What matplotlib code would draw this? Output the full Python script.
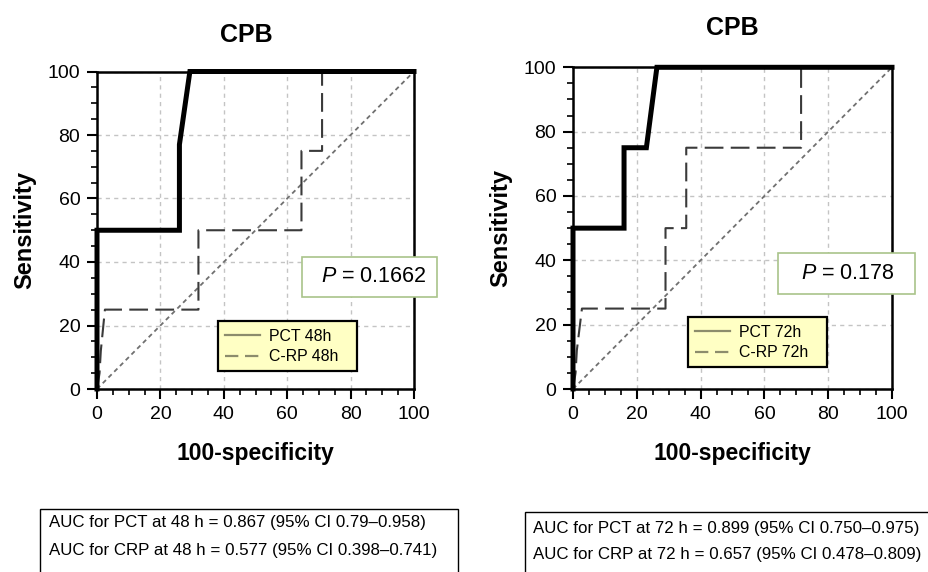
import matplotlib
matplotlib.use("Agg")
import matplotlib.pyplot as plt
from matplotlib.patches import Rectangle
from matplotlib.lines import Line2D
from matplotlib.ticker import MultipleLocator

plt.rcParams['font.family'] = ['Liberation Sans', 'DejaVu Sans']
plt.rcParams['mathtext.fontset'] = 'custom'
plt.rcParams['mathtext.rm'] = 'Liberation Sans'
plt.rcParams['mathtext.it'] = 'Liberation Sans:italic'

# ---------------- data ----------------
title = "CPB"
xlabel = "100-specificity"
ylabel = "Sensitivity"
ticks = [0, 20, 40, 60, 80, 100]

pct48_x = [0, 0, 26, 26, 29.3, 100]
pct48_y = [0, 50, 50, 77, 100, 100]
crp48_x = [0, 0.8, 1.2, 2.5, 32, 32, 64.5, 64.5, 71, 71, 100]
crp48_y = [0, 5, 12, 25, 25, 50, 50, 75, 75, 100, 100]

pct72_x = [0, 0, 16, 16, 23, 26.3, 100]
pct72_y = [0, 50, 50, 75, 75, 100, 100]
crp72_x = [0, 0.8, 1.2, 2.8, 29, 29, 35.5, 35.5, 71.5, 71.5, 100]
crp72_y = [0, 5, 12, 25, 25, 50, 50, 75, 75, 100, 100]

ref_x = [0, 100]
ref_y = [0, 100]

legend48 = ["PCT 48h", "C-RP 48h"]
legend72 = ["PCT 72h", "C-RP 72h"]
p48 = "$\\it{P}$ = 0.1662"
p72 = "$\\it{P}$ = 0.178"
auc48 = ["AUC for PCT at 48 h = 0.867 (95% CI 0.79\u20130.958)",
         "AUC for CRP at 48 h = 0.577 (95% CI 0.398\u20130.741)"]
auc72 = ["AUC for PCT at 72 h = 0.899 (95% CI 0.750\u20130.975)",
         "AUC for CRP at 72 h = 0.657 (95% CI 0.478\u20130.809)"]

# ---------------- figure ----------------
W, H = 929, 572
fig = plt.figure(figsize=(W / 100, H / 100), dpi=100)


def fx(x):
    return x / W


def fy(y):
    return 1 - y / H


def make_axes(x0, x1, y0, y1):
    return fig.add_axes([fx(x0), fy(y1), fx(x1) - fx(x0), fy(y0) - fy(y1)])


def style(ax):
    ax.set_xlim(0, 100)
    ax.set_ylim(0, 100)
    ax.set_xticks(ticks)
    ax.set_yticks(ticks)
    ax.xaxis.set_minor_locator(MultipleLocator(5))
    ax.yaxis.set_minor_locator(MultipleLocator(5))
    ax.tick_params(which='major', direction='out', length=7, width=1.5,
                   labelsize=14, pad=5)
    ax.tick_params(which='minor', direction='out', length=4, width=1.2)
    for s in ax.spines.values():
        s.set_linewidth(1.8)
    ax.grid(True, which='major', color='#c4c4c4', linestyle=(0, (3, 3)),
            linewidth=1)
    ax.set_axisbelow(True)


def draw_panel(ax, px, py, cx, cy):
    style(ax)
    ax.plot(ref_x, ref_y, color='#707070', linestyle=(0, (2.5, 2)), lw=1.3,
            zorder=2)
    ax.plot(cx, cy, color='#3a3a3a', linestyle=(0, (9, 3.5)), lw=1.5,
            zorder=3, clip_on=False)
    ax.plot(px, py, color='black', lw=3.6, zorder=4, clip_on=False,
            solid_joinstyle='miter')
    ax.set_xlabel(xlabel, fontsize=16.5, fontweight='bold', labelpad=14)
    ax.set_ylabel(ylabel, fontsize=17, fontweight='bold', labelpad=8)


axL = make_axes(97, 414, 71.5, 389)
draw_panel(axL, pct48_x, pct48_y, crp48_x, crp48_y)
axR = make_axes(573, 892, 67.3, 389)
draw_panel(axR, pct72_x, pct72_y, crp72_x, crp72_y)

# titles
fig.text(fx(246), fy(35), title, fontsize=18, fontweight='bold',
         ha='center', va='center')
fig.text(fx(732), fy(28), title, fontsize=18, fontweight='bold',
         ha='center', va='center')

# legends
hcol = '#8c8c6c'


def add_legend(ax, labels, x0, x1, y0):
    handles = [Line2D([], [], color=hcol, lw=1.6),
               Line2D([], [], color=hcol, lw=1.6, linestyle=(0, (6, 3)))]
    lg = ax.legend(handles, labels, loc='upper left',
                   bbox_to_anchor=(fx(x0), fy(y0), fx(x1) - fx(x0), 0.001),
                   bbox_transform=fig.transFigure, mode='expand',
                   borderaxespad=0, fontsize=11.4, handlelength=2.2,
                   handletextpad=0.6, borderpad=0.45, labelspacing=0.35,
                   fancybox=False, framealpha=1)
    fr = lg.get_frame()
    fr.set_facecolor('#ffffc4')
    fr.set_edgecolor('black')
    fr.set_linewidth(1.6)
    lg.set_zorder(10)


add_legend(axL, legend48, 218, 357, 322)
add_legend(axR, legend72, 688, 827, 318)


# P boxes
def pbox(x0, x1, y0, y1, txt, tx):
    fig.patches.append(Rectangle((fx(x0), fy(y1)), fx(x1) - fx(x0),
                                 fy(y0) - fy(y1), transform=fig.transFigure,
                                 facecolor='white', edgecolor='#a9c48a',
                                 lw=1.2, zorder=20))
    fig.text(fx(tx), fy((y0 + y1) / 2), txt, fontsize=15.5, ha='center',
             va='center', zorder=21)


pbox(302, 437, 257, 297, p48, 374)
pbox(778, 915, 253, 294, p72, 848)


# AUC boxes
def aucbox(x0, x1, y0, lines, ys, tx):
    fig.patches.append(Rectangle((fx(x0), fy(H + 20)), fx(x1) - fx(x0),
                                 fy(y0) - fy(H + 20), transform=fig.transFigure,
                                 facecolor='white', edgecolor='black', lw=1.0,
                                 zorder=20))
    for t, y in zip(lines, ys):
        fig.text(fx(tx), fy(y), t, fontsize=12.2, ha='left',
                 va='center', zorder=21)


aucbox(40, 458, 509, auc48, [523, 550], 49)
aucbox(525, 940, 512, auc72, [528, 554], 533)

fig.savefig("out.png", dpi=100)
